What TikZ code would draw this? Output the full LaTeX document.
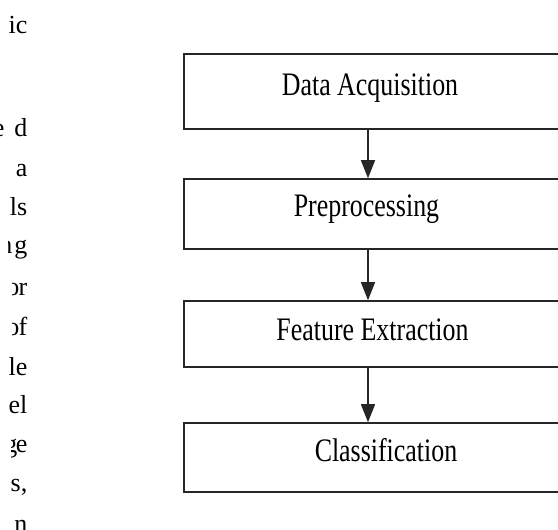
\documentclass[tikz,border=0pt]{standalone}
\usepackage{fontspec}
\setmainfont{Liberation Serif}
\newfontfamily\boxfont[FakeStretch=0.79]{Liberation Serif}
\usetikzlibrary{arrows.meta}

\tikzset{
  stagebox/.style={draw=black!85, line width=1.6pt, rectangle, inner sep=0pt,
                   minimum width=378pt},
  stagetext/.style={anchor=base, inner sep=0pt, font=\boxfont\fontsize{32.8}{36}\selectfont},
  flowarrow/.style={draw=black!85, line width=1.5pt,
                    -{Triangle[length=18pt,width=14pt]}},
  margintext/.style={anchor=base east, inner sep=0pt, font=\fontsize{26}{30}\selectfont},
}

\begin{document}
\begin{tikzpicture}[x=1pt, y=-1pt]
  \useasboundingbox (0,0) rectangle (558,530);
  \clip (0,0) rectangle (558,530);
  \fill[white] (0,0) rectangle (558,530);

  % column of justified body text cut at the left edge
  \node[margintext] (m1)  at (27.5,33)  {ic};
  \node[margintext] (m2)  at (27.5,136) {d};
  \node[margintext] (m3)  at (27.5,176) {a};
  \node[margintext] (m4)  at (27.5,215) {ls};
  \node[margintext] (m5)  at (27.5,253) {g};
  \node[margintext] (m6)  at (27.5,295) {r};
  \node[margintext] (m7)  at (27.5,335) {f};
  \node[margintext] (m8)  at (27.5,375) {le};
  \node[margintext] (m9)  at (27.5,413) {el};
  \node[margintext] (m10) at (27.5,452) {e};
  \node[margintext] (m11) at (27.5,491) {s,};
  \node[margintext] (m12) at (27.5,532) {n};

  % partly hidden letters at the cut edge
  \begin{scope}
    \clip (0,110) rectangle (3.5,140);
    \node[margintext] (p2) at (4.5,136) {e};
  \end{scope}
  \begin{scope}
    \clip (8,230) rectangle (12,258);
    \node[margintext] (p5) at (12.5,253) {n};
  \end{scope}
  \begin{scope}
    \clip (12,270) rectangle (19,300);
    \node[margintext] (p6) at (19.5,295) {o};
  \end{scope}
  \begin{scope}
    \clip (12,310) rectangle (19,340);
    \node[margintext] (p7) at (19.5,335) {o};
  \end{scope}
  \begin{scope}
    \clip (11,428) rectangle (17,462);
    \node[margintext] (p10) at (17.5,452) {g};
  \end{scope}

  % flow stages (right side runs past the edge)
  \node[stagebox, minimum height=75pt] (b1) at (373,91.5) {};
  \node[stagebox, minimum height=70pt] (b2) at (373,214)  {};
  \node[stagebox, minimum height=66pt] (b3) at (373,334)  {};
  \node[stagebox, minimum height=69pt] (b4) at (373,457.5) {};

  \node[stagetext] (t1) at (370,95)    {Data Acquisition};
  \node[stagetext] (t2) at (366.5,216.5) {Preprocessing};
  \node[stagetext] (t3) at (372.5,340.5) {Feature Extraction};
  \node[stagetext] (t4) at (386,461.5) {Classification};

  % connectors
  \coordinate (ax) at (368,0);
  \draw[flowarrow] (b1.south -| ax) -- (b2.north -| ax);
  \draw[flowarrow] (b2.south -| ax) -- (b3.north -| ax);
  \draw[flowarrow] (b3.south -| ax) -- (b4.north -| ax);
\end{tikzpicture}
\end{document}
